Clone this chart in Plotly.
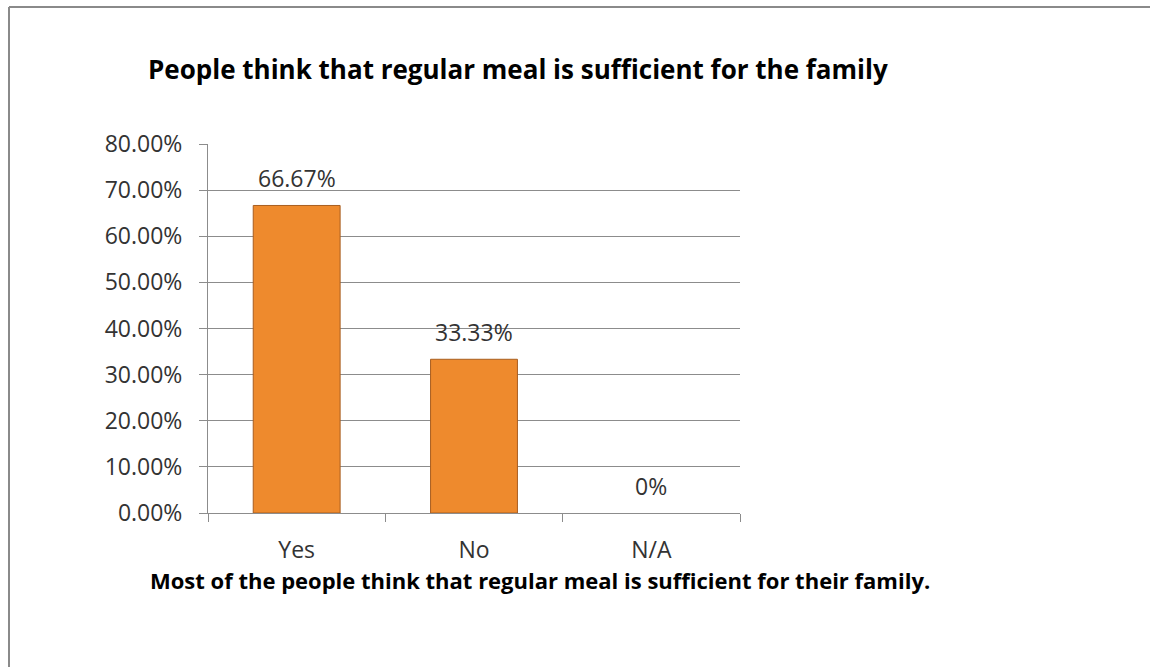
import plotly.graph_objects as go

# Survey answers and their shares (percent)
categories = ["Yes", "No", "N/A"]
shares = [66.67, 33.33, 0]
title_text = "People think that regular meal is sufficient for the family"
caption_text = "Most of the people think that regular meal is sufficient for their family."

W, H = 1150, 667
left, right, top, bottom = 208, 740, 144, 513
pw, ph = right - left, bottom - top
FONT = "Open Sans"


def px_x(x):
    return (x - left) / pw


def px_y(y):
    return (bottom - y) / ph


labels = [f"{v:g}%" for v in shares]
outline_widths = [1 if v > 0 else 0 for v in shares]

fig = go.Figure(
    go.Bar(
        x=categories,
        y=shares,
        width=0.49,
        marker=dict(color="#EE8A2D", line=dict(color="#A85E20", width=outline_widths)),
        cliponaxis=False,
    )
)

# Value labels sitting above each bar
for cat, val, lab in zip(categories, shares, labels):
    fig.add_annotation(
        x=cat, y=val, text=lab, xref="x", yref="y",
        xanchor="center", yanchor="bottom", yshift=9,
        showarrow=False,
        font=dict(family=FONT, size=23, color="#333333"),
    )

fig.update_layout(
    width=W,
    height=H,
    margin=dict(l=left, r=W - right, t=top, b=H - bottom),
    paper_bgcolor="white",
    plot_bgcolor="white",
    showlegend=False,
    font=dict(family=FONT, size=23, color="#333333"),
    title=dict(
        text=title_text,
        xref="container",
        yref="container",
        x=148 / W,
        xanchor="left",
        y=1 - 70 / H,
        yanchor="middle",
        font=dict(family=FONT, size=26, color="#000000", weight="bold"),
    ),
)

fig.update_yaxes(
    range=[0, 80],
    dtick=10,
    tickformat=".2f",
    ticksuffix="%",
    showgrid=True,
    gridcolor="#8C8C8C",
    gridwidth=1,
    showline=True,
    linecolor="#8C8C8C",
    linewidth=1,
    ticks="outside",
    ticklen=8,
    tickcolor="#8C8C8C",
    ticklabelstandoff=12,
    zeroline=False,
    tickfont=dict(family=FONT, size=23, color="#333333"),
)

fig.update_xaxes(
    showline=True,
    linecolor="#8C8C8C",
    linewidth=1,
    ticks="outside",
    tickson="boundaries",
    ticklen=8,
    tickcolor="#8C8C8C",
    ticklabelstandoff=16,
    tickfont=dict(family=FONT, size=23, color="#333333"),
)

fig.add_annotation(
    text=caption_text,
    xref="paper",
    yref="paper",
    x=px_x(148),
    y=px_y(580),
    xanchor="left",
    yanchor="middle",
    showarrow=False,
    font=dict(family=FONT, size=22, color="#000000", weight="bold"),
)

# Frame around the chart area (top and left edges)
frame = dict(color="#8A8A8A", width=2)
fig.add_shape(type="line", xref="paper", yref="paper",
              x0=px_x(9), x1=px_x(W + 5), y0=px_y(7), y1=px_y(7), line=frame)
fig.add_shape(type="line", xref="paper", yref="paper",
              x0=px_x(9), x1=px_x(9), y0=px_y(7), y1=px_y(H + 5), line=frame)

fig.write_html("out.html")
